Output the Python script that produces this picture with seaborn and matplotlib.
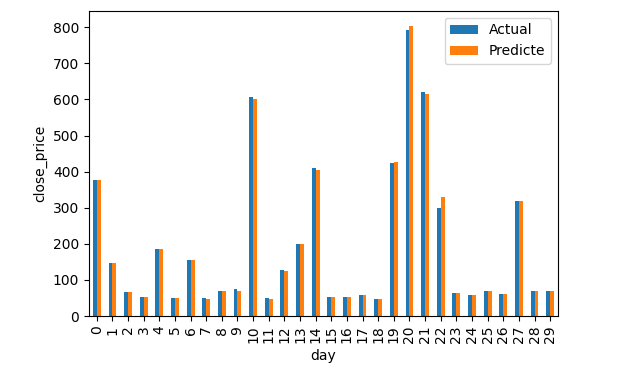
import matplotlib
matplotlib.use("Agg")
import matplotlib.pyplot as plt
import pandas as pd
import seaborn as sns

days = list(range(30))
actual = [377, 147, 66, 54, 187, 50, 156, 50, 69, 74,
          607, 49, 127, 199, 409, 54, 54, 57, 46, 424,
          793, 622, 299, 65, 58, 69, 62, 319, 69, 69]
predicted = [377, 147, 66, 54, 187, 50, 156, 46, 69, 69,
             602, 46, 124, 199, 404, 54, 54, 57, 46, 428,
             805, 614, 330, 65, 58, 69, 62, 319, 69, 69]
series_names = ["Actual", "Predicte"]
colors = ["#1f77b4", "#ff7f0e"]

df = pd.DataFrame({
    "day": days * 2,
    "close_price": actual + predicted,
    "series": [series_names[0]] * len(days) + [series_names[1]] * len(days),
})

fig = plt.figure(figsize=(6.2, 3.75), dpi=100)
ax = fig.add_axes([0.1435, 0.1573, 0.7565, 0.8134])

sns.barplot(
    data=df,
    x="day",
    y="close_price",
    hue="series",
    hue_order=series_names,
    palette=colors,
    saturation=1,
    width=0.5,
    linewidth=0,
    ax=ax,
)

ax.set_xlim(-0.5, 29.5)
ax.set_xlabel("day")
ax.set_ylabel("close_price")
ax.tick_params(axis="x", labelrotation=90)

handles, labels = ax.get_legend_handles_labels()
ax.legend(handles, labels, loc="upper right")

fig.savefig("out.png", dpi=100)
